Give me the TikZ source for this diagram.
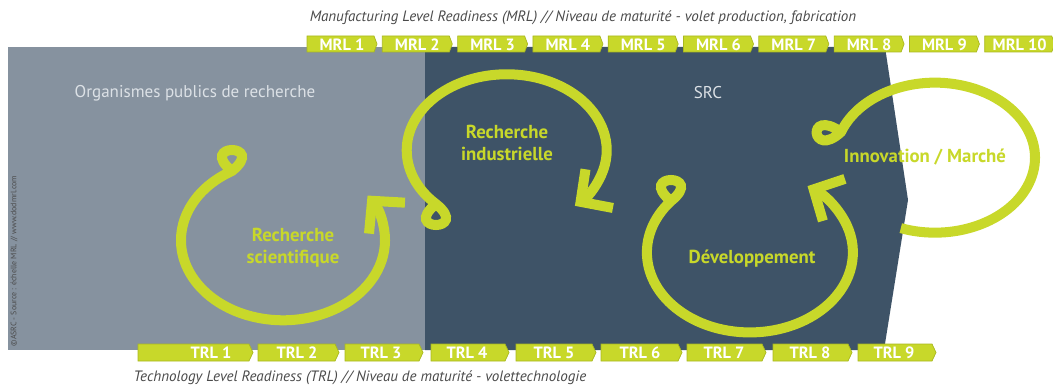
\documentclass[tikz,border=0pt]{standalone}
\usepackage{fontspec}
\setmainfont{PT Sans}
\usetikzlibrary{arrows.meta}
\definecolor{lime}{HTML}{C8D82A}
\definecolor{limedark}{HTML}{A9B81F}
\definecolor{slate}{HTML}{86929F}
\definecolor{navy}{HTML}{3E5367}
\definecolor{mist}{HTML}{DCE1E6}
\definecolor{caption}{HTML}{4A4A4A}
\tikzset{
  loop/.style={draw=lime,line width=5.7pt,line cap=butt},
  head/.style={-{Straight Barb[length=13pt,width=27pt,line cap=butt,line join=miter]}},
  tab/.style={fill=lime,draw=limedark,line width=0.4pt},
  tablabel/.style={text=white,font=\fontsize{9.3}{10}\selectfont\bfseries,inner sep=0pt},
  looplabel/.style={text=lime,font=\fontsize{10.7}{12.5}\selectfont\bfseries,align=center},
  zonelabel/.style={text=mist,font=\fontsize{9.7}{11}\selectfont},
  scalelabel/.style={text=caption,font=\fontsize{8.55}{9.5}\selectfont\itshape},
}
\begin{document}
\begin{tikzpicture}[x=0.02cm,y=-0.02cm]
        \useasboundingbox (0,0) rectangle (1053,385);
        \fill[slate] (8,47) rectangle (425,350);
        \fill[navy] (425,47) -- (885,47) -- (908,200) -- (884,350) -- (425,350) -- cycle;

        % MRL tabs
        \foreach \i in {1,...,10}{
            \pgfmathsetmacro{\tabstart}{307+(\i-1)*75.3}
            \pgfmathsetmacro{\tabend}{\tabstart+70}
            \draw[tab] (\tabstart,36) -- (\tabend-3,36) -- (\tabend,44) -- (\tabend-3,52) -- (\tabstart,52) -- cycle;
            \node[tablabel] (mrl\i) at ({\tabstart+35},44.5) {MRL \i};
        }

        % TRL tabs
        \foreach \i/\tabstart/\tabend in {1/138/253,2/258/339,3/345/423,4/431/509,5/516/596,6/601/682,7/687/766,8/773/852,9/858/936}{
            \draw[tab] (\tabstart,344) -- (\tabend-4,344) -- (\tabend,352.5) -- (\tabend-4,361) -- (\tabstart,361) -- cycle;
            \node[tablabel] (trl\i) at ({\tabend-42},353) {TRL \i};
        }

        % loops
        \draw[loop,head] (232,171) .. controls +(-35,-28) and +(35,-28) .. (232,171)
            arc[start angle=240,end angle=-34,x radius=102,y radius=80];
        \draw[loop,head] (436,204) .. controls +(-35,28) and +(35,28) .. (436,204)
            arc[start angle=135,end angle=407,x radius=100,y radius=76];
        \draw[loop,head] (671,201) .. controls +(-35,-28) and +(35,-28) .. (671,201)
            arc[start angle=220,end angle=-56,x radius=103,y radius=80];
        \draw[loop] (841,132) .. controls +(-35,-25) and +(-30,28) .. (841,132)
            arc[start angle=200,end angle=470,x radius=100,y radius=75];

        % labels
        \node[zonelabel] (opr) at (195,93) {Organismes publics de recherche};
        \node[zonelabel] (src) at (708,93) {SRC};
        \node[looplabel] (rsci) at (293,248) {Recherche\\scientifique};
        \node[looplabel] (rind) at (507,143) {Recherche\\industrielle};
        \node[looplabel] (dev) at (752,259) {Développement};
        \node[looplabel] (inno) at (925,157) {Innovation / Marché};
        \node[scalelabel] (mrltitle) at (583,18) {Manufacturing Level Readiness (MRL) // Niveau de maturité - volet production, fabrication};
        \node[scalelabel] (trltitle) at (360,378) {Technology Level Readiness (TRL) // Niveau de maturité - volettechnologie};
        \node[text=caption,font=\fontsize{4.5}{5}\selectfont,rotate=90] (credit) at (14,261) {©ASRC - Source : échelle MRL // www.dodmrl.com};
    \end{tikzpicture}
\end{document}
